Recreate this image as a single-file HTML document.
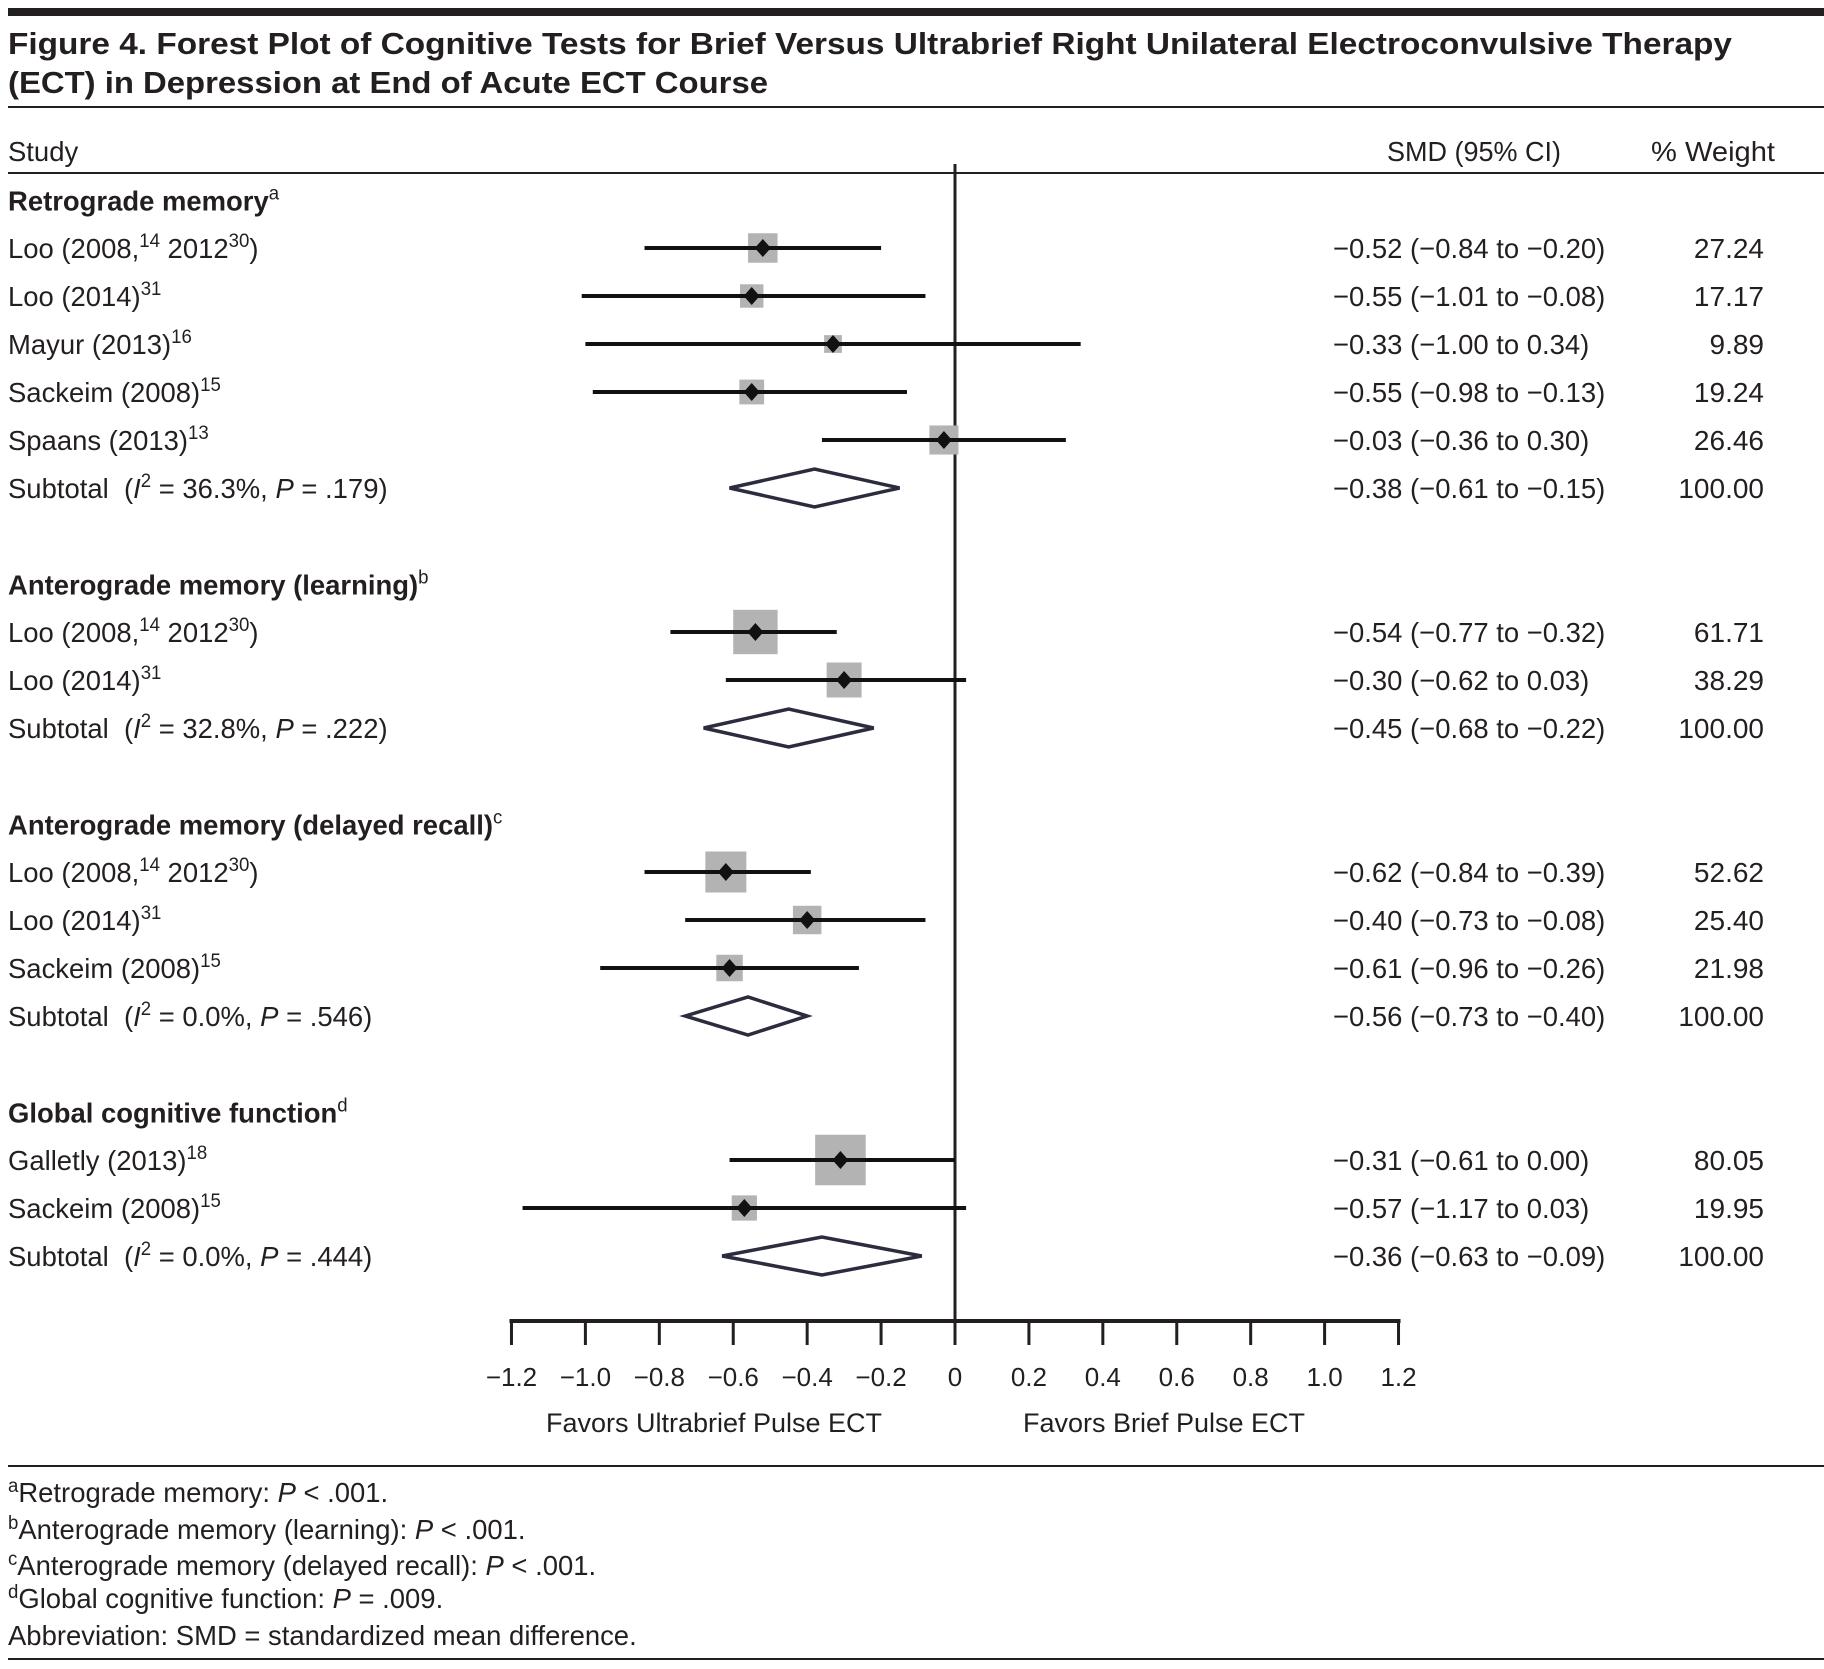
<!DOCTYPE html>
<html><head><meta charset="utf-8">
<style>
html,body{margin:0;padding:0;background:#fff;}
svg{display:block;}
text{font-family:"Liberation Sans",sans-serif;fill:#231f20;white-space:pre;}
</style></head>
<body>
<svg id="chart" width="1824" height="1669" viewBox="0 0 1824 1669" xmlns="http://www.w3.org/2000/svg" xml:space="preserve">
<rect x="8" y="8" width="1816" height="8" fill="#231f20"/>
<text x="8" y="54" font-size="31" font-weight="bold" textLength="1724" lengthAdjust="spacingAndGlyphs">Figure 4. Forest Plot of Cognitive Tests for Brief Versus Ultrabrief Right Unilateral Electroconvulsive Therapy</text>
<text x="8" y="93" font-size="31" font-weight="bold" textLength="760" lengthAdjust="spacingAndGlyphs">(ECT) in Depression at End of Acute ECT Course</text>
<rect x="8" y="106" width="1816" height="2" fill="#231f20"/>
<text x="8" y="161" font-size="28" class="c">Study</text>
<text x="1387" y="161" font-size="28" textLength="174" lengthAdjust="spacingAndGlyphs">SMD (95% CI)</text>
<text x="1651" y="161" font-size="28" textLength="124" lengthAdjust="spacingAndGlyphs">% Weight</text>
<rect x="8" y="172" width="1816" height="2" fill="#231f20"/>
<g id="plot"></g>
<rect x="8" y="1465" width="1816" height="2" fill="#231f20"/>
<g id="notes" font-size="28">
<text x="8" y="1502" class="c"><tspan font-size="19" dy="-10">a</tspan><tspan dy="10">Retrograde memory: </tspan><tspan font-style="italic">P</tspan> &lt; .001.</text>
<text x="8" y="1539" class="c"><tspan font-size="19" dy="-10">b</tspan><tspan dy="10">Anterograde memory (learning): </tspan><tspan font-style="italic">P</tspan> &lt; .001.</text>
<text x="8" y="1575" class="c"><tspan font-size="19" dy="-10">c</tspan><tspan dy="10">Anterograde memory (delayed recall): </tspan><tspan font-style="italic">P</tspan> &lt; .001.</text>
<text x="8" y="1608" class="c"><tspan font-size="19" dy="-10">d</tspan><tspan dy="10">Global cognitive function: </tspan><tspan font-style="italic">P</tspan> = .009.</text>
<text x="8" y="1645" class="c">Abbreviation: SMD = standardized mean difference.</text>
</g>
<rect x="8" y="1658" width="1816" height="2" fill="#231f20"/>
</svg>
<script>
// ----- data -----
var studyLabels = ["Loo (2008,|14| 2012|30|)","Loo (2014)|31|","Mayur (2013)|16|","Sackeim (2008)|15|","Spaans (2013)|13|","SUB",
  "Loo (2008,|14| 2012|30|)","Loo (2014)|31|","SUB",
  "Loo (2008,|14| 2012|30|)","Loo (2014)|31|","Sackeim (2008)|15|","SUB",
  "Galletly (2013)|18|","Sackeim (2008)|15|","SUB"];
var smd   = [-0.52,-0.55,-0.33,-0.55,-0.03,-0.38, -0.54,-0.30,-0.45, -0.62,-0.40,-0.61,-0.56, -0.31,-0.57,-0.36];
var ciLow = [-0.84,-1.01,-1.00,-0.98,-0.36,-0.61, -0.77,-0.62,-0.68, -0.84,-0.73,-0.96,-0.73, -0.61,-1.17,-0.63];
var ciHigh= [-0.20,-0.08,0.34,-0.13,0.30,-0.15, -0.32,0.03,-0.22, -0.39,-0.08,-0.26,-0.40, -0.00,0.03,-0.09];
var weights=[27.24,17.17,9.89,19.24,26.46,100, 61.71,38.29,100, 52.62,25.40,21.98,100, 80.05,19.95,100];
var subtotalStats = ["36.3%|.179","32.8%|.222","0.0%|.546","0.0%|.444"];
var groupNames = ["Retrograde memory","Anterograde memory (learning)","Anterograde memory (delayed recall)","Global cognitive function"];
var groupSup = ["a","b","c","d"];
var groupStart = [0,6,9,13];
var ticks = [-1.2,-1.0,-0.8,-0.6,-0.4,-0.2,0,0.2,0.4,0.6,0.8,1.0,1.2];
var tickLabels = ["\u22121.2","\u22121.0","\u22120.8","\u22120.6","\u22120.4","\u22120.2","0","0.2","0.4","0.6","0.8","1.0","1.2"];

// ----- scales -----
function xScale(v){ return 955 + v*369.6; }
var rowY = [];
(function(){
  var y = 248;
  for (var i=0;i<studyLabels.length;i++){
    if (groupStart.indexOf(i)>=0 && i>0){ y += 48*2; }
    rowY.push(y); y += 48;
  }
})();
function headerY(g){ return rowY[groupStart[g]] - 47.5; }

var NS="http://www.w3.org/2000/svg";
var plot=document.getElementById('plot');
function mk(tag, attrs, parent){
  var e=document.createElementNS(NS,tag);
  for (var k in attrs) e.setAttribute(k, attrs[k]);
  (parent||plot).appendChild(e); return e;
}
function fmt(v){ var s=Math.abs(v).toFixed(2); return (v<0?"\u2212":"")+s; }

var zl = mk('line',{x1:xScale(0),x2:xScale(0),y1:164,y2:1321,stroke:'#231f20','stroke-width':3});



for (var g=0; g<groupNames.length; g++){
  var t = mk('text',{x:8,y:headerY(g)+10,'font-size':28,'font-weight':'bold','class':'c'});
  
  
  t.appendChild(document.createTextNode(groupNames[g]));
  var s = mk('tspan',{'font-size':19,'font-weight':'normal',dy:-11},t); s.textContent=groupSup[g];
}

var subIdx = 0;
for (var i=0;i<studyLabels.length;i++){
  var y=rowY[i];
  var isSub = studyLabels[i]==="SUB";
  var lab = mk('text',{x:8,y:y+10,'font-size':28,'class':'c'});
  
  
  if (isSub){
    var st = subtotalStats[subIdx].split('|');
    lab.appendChild(document.createTextNode('Subtotal\u00a0\u00a0('));
    var it=mk('tspan',{'font-style':'italic'},lab); it.textContent='I';
    var sp=mk('tspan',{'font-size':19,dy:-11},lab); sp.textContent='2';
    var r1=mk('tspan',{dy:11},lab); r1.textContent=' = '+st[0]+', ';
    var ip=mk('tspan',{'font-style':'italic'},lab); ip.textContent='P';
    lab.appendChild(document.createTextNode(' = '+st[1]+')'));
    subIdx++;
  } else {
    var parts = studyLabels[i].split('|');
    for (var p=0;p<parts.length;p++){
      if (!parts[p]) continue;
      if (p%2===1){ var ts=mk('tspan',{'font-size':19,dy:-11},lab); ts.textContent=parts[p]; }
      else { var tn=mk('tspan',{dy:(p>0?11:0)},lab); tn.textContent=parts[p]; }
    }
  }
  var ci = mk('text',{x:1333,y:y+10,'font-size':28,'class':'c'});
  
  
  ci.textContent = fmt(smd[i])+' ('+fmt(ciLow[i])+' to '+fmt(ciHigh[i])+')';
  var w = mk('text',{x:1764,y:y+10,'font-size':28,'text-anchor':'end'});
  
  
  w.textContent = weights[i].toFixed(2);

  if (isSub){
    var xl=xScale(ciLow[i]), xr=xScale(ciHigh[i]), xc=xScale(smd[i]);
    var d = mk('polygon',{points:xl+','+y+' '+xc+','+(y-19)+' '+xr+','+y+' '+xc+','+(y+19),fill:'none',stroke:'#2b2c3d','stroke-width':3.5});
    
    
  } else {
    var sz = 5.65*Math.sqrt(weights[i]);
    var b = mk('rect',{x:xScale(smd[i])-sz/2,y:y-sz/2,width:sz,height:sz,fill:'#b3b3b3'});
    
    
    var l = mk('line',{x1:xScale(ciLow[i]),x2:xScale(ciHigh[i]),y1:y,y2:y,stroke:'#111','stroke-width':4});
    
    
    var xc2 = xScale(smd[i]);
    var m = mk('polygon',{points:(xc2-8)+','+y+' '+xc2+','+(y-9)+' '+(xc2+8)+','+y+' '+xc2+','+(y+9),fill:'#111'});
    
    
  }
}

var ax = mk('line',{x1:xScale(ticks[0])-2,x2:xScale(ticks[ticks.length-1])+2,y1:1321,y2:1321,stroke:'#231f20','stroke-width':4});


for (var k=0;k<ticks.length;k++){
  var tk = mk('line',{x1:xScale(ticks[k]),x2:xScale(ticks[k]),y1:1321,y2:1345,stroke:'#231f20','stroke-width':3});
  
  
  var tl = mk('text',{x:xScale(ticks[k]),y:1386,'font-size':26,'text-anchor':'middle'});
  
  
  tl.textContent = tickLabels[k];
}
var f1 = mk('text',{x:714,y:1432,'font-size':27,'text-anchor':'middle'});


f1.textContent='Favors Ultrabrief Pulse ECT';
var f2 = mk('text',{x:1164,y:1432,'font-size':27,'text-anchor':'middle'});


f2.textContent='Favors Brief Pulse ECT';

var all = document.querySelectorAll('text.c');
for (var q=0;q<all.length;q++){
  var tx=all[q];
  try{ var L=tx.getComputedTextLength(); if(L>0){ tx.setAttribute('textLength', (L*0.98).toFixed(1)); tx.setAttribute('lengthAdjust','spacingAndGlyphs'); } }catch(e){}
}
</script>
</body></html>
